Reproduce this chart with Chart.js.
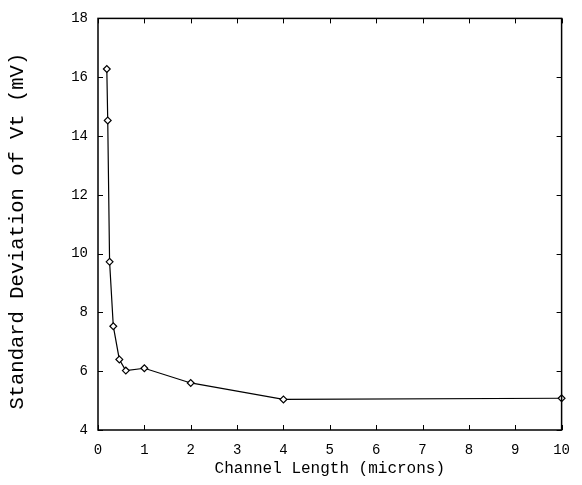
<!DOCTYPE html>
<html>
<head>
<meta charset="utf-8">
<script src="https://cdn.jsdelivr.net/npm/chart.js@4/dist/chart.umd.min.js"></script>
<style>
  html, body { margin: 0; padding: 0; background: #fff; }
  #wrap { width: 582px; height: 485px; }
</style>
</head>
<body>
<div id="wrap"><canvas id="c" width="582" height="485"></canvas></div>
<script>
// Channel length (microns) and the measured spread of threshold voltage (mV)
const channelLength = [0.19, 0.21, 0.25, 0.33, 0.46, 0.6, 1, 2, 4, 10];
const sigmaVt = [16.28, 14.53, 9.72, 7.53, 6.4, 6.02, 6.1, 5.6, 5.04, 5.08];

const xTicks = [0, 1, 2, 3, 4, 5, 6, 7, 8, 9, 10];
const yTicks = [4, 6, 8, 10, 12, 14, 16, 18];

const xTitle = 'Channel Length (microns)';
const yTitle = 'Standard Deviation of Vt (mV)';

const MONO = '"Liberation Mono", "Courier New", monospace';

// Box frame with inward-pointing ticks on all four sides, plus the rotated y title
const framePlugin = {
  id: 'frame',
  afterDatasetsDraw(chart) {
    const { ctx, chartArea: a, scales } = chart;
    const len = 5;
    ctx.save();
    ctx.strokeStyle = '#000';
    ctx.lineWidth = 1.5;
    ctx.strokeRect(a.left, a.top, a.right - a.left, a.bottom - a.top);
    ctx.lineWidth = 1;
    ctx.beginPath();
    xTicks.forEach(v => {
      const px = Math.round(scales.x.getPixelForValue(v)) + 0.5;
      ctx.moveTo(px, a.bottom); ctx.lineTo(px, a.bottom - len);
      ctx.moveTo(px, a.top); ctx.lineTo(px, a.top + len);
    });
    yTicks.forEach(v => {
      const py = Math.round(scales.y.getPixelForValue(v)) + 0.5;
      ctx.moveTo(a.left, py); ctx.lineTo(a.left + len, py);
      ctx.moveTo(a.right, py); ctx.lineTo(a.right - len, py);
    });
    ctx.stroke();

    // y-axis title, rotated, centred slightly below the plot's middle
    ctx.translate(18, (a.top + a.bottom) / 2 + 7);
    ctx.rotate(-Math.PI / 2);
    ctx.fillStyle = '#000';
    ctx.font = '20.5px ' + MONO;
    ctx.textAlign = 'center';
    ctx.textBaseline = 'middle';
    ctx.fillText(yTitle, 0, 0);
    ctx.restore();
  }
};

new Chart(document.getElementById('c'), {
  type: 'line',
  data: {
    datasets: [{
      data: channelLength.map((x, i) => ({ x, y: sigmaVt[i] })),
      borderColor: '#000',
      borderWidth: 1.2,
      tension: 0,
      pointStyle: 'rectRot',
      pointRadius: 3.4,
      pointBackgroundColor: '#fff',
      pointBorderColor: '#000',
      pointBorderWidth: 1.2,
      clip: false
    }]
  },
  options: {
    responsive: false,
    animation: false,
    devicePixelRatio: 1,
    layout: { padding: { left: 0, right: 9, top: 10, bottom: 0 } },
    plugins: { legend: { display: false }, tooltip: { enabled: false } },
    scales: {
      x: {
        type: 'linear',
        min: 0, max: 10,
        afterBuildTicks: s => { s.ticks = xTicks.map(v => ({ value: v })); },
        afterFit: s => { s.height = 55; },
        grid: { display: false, drawTicks: false },
        border: { display: false },
        ticks: { color: '#000', padding: 12, maxRotation: 0, font: { family: MONO, size: 14 } },
        title: {
          display: true, text: xTitle, color: '#000',
          font: { family: MONO, size: 16 },
          padding: { top: 0, bottom: 7 }
        }
      },
      y: {
        type: 'linear',
        min: 4, max: 18,
        afterBuildTicks: s => { s.ticks = yTicks.map(v => ({ value: v })); },
        afterFit: s => { s.width = 98; },
        grid: { display: false, drawTicks: false },
        border: { display: false },
        ticks: { color: '#000', padding: 10, font: { family: MONO, size: 14 } },
        title: { display: false }
      }
    }
  },
  plugins: [framePlugin]
});
</script>
</body>
</html>
